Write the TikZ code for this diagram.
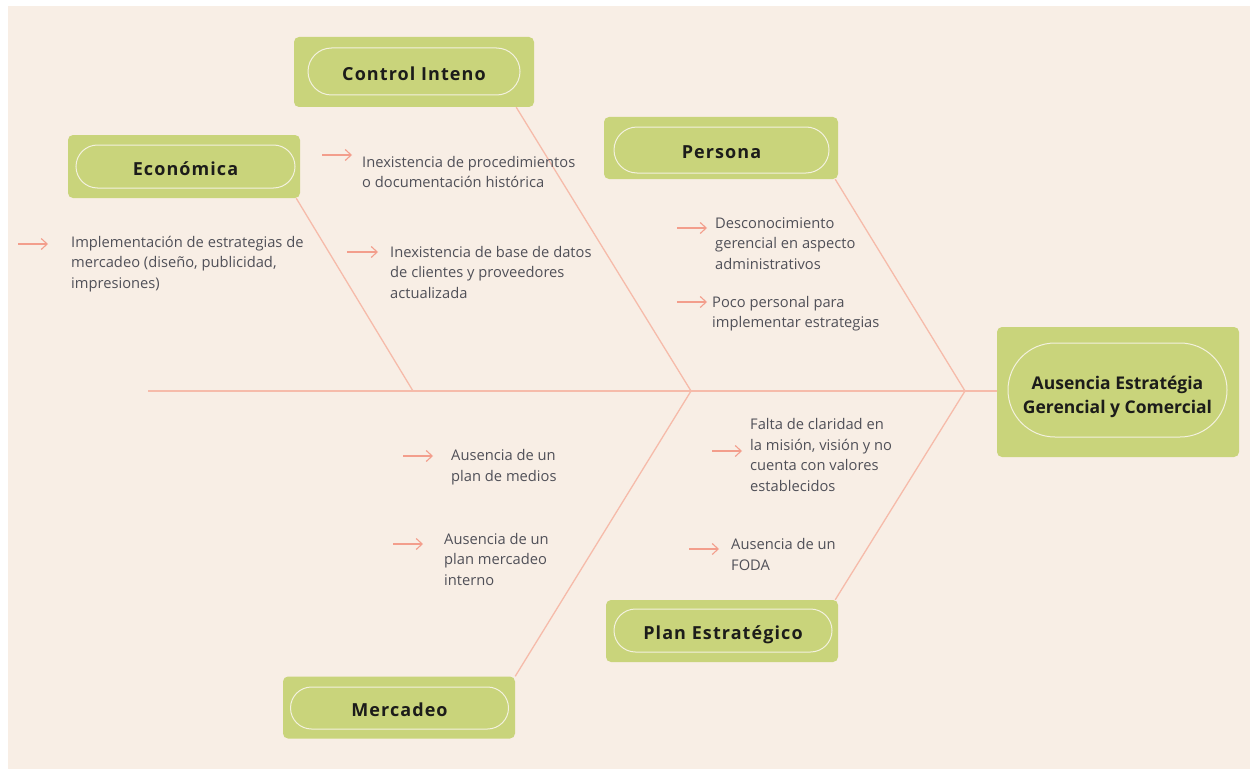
\documentclass[tikz,border=0pt]{standalone}
\usepackage{fontspec}
\setmainfont{Open Sans}
\newfontfamily\headfont{Open Sans}[LetterSpace=6]
\usetikzlibrary{arrows.meta}

\definecolor{pagebg}{HTML}{F8EEE5}
\definecolor{boxgreen}{HTML}{C9D47B}
\definecolor{pillline}{HTML}{F3F1DE}
\definecolor{bonecol}{HTML}{F6BBAA}
\definecolor{arrowcol}{HTML}{F39E8C}
\definecolor{titletext}{HTML}{1C1C1A}
\definecolor{bodytext}{HTML}{505058}

\tikzset{
  box/.style={fill=boxgreen, rounded corners=5pt, inner sep=0pt, draw=none},
  pill/.style={draw=pillline, line width=1pt, inner sep=0pt, text=titletext,
    text height=17.5pt, text depth=0pt,
    font=\headfont\bfseries\fontsize{18}{22}\selectfont},
  ring/.style={draw=pillline, line width=1pt, inner sep=0pt},
  efftext/.style={inner sep=0pt, text=titletext, align=center,
    font=\bfseries\fontsize{17.5}{24}\selectfont},
  bone/.style={draw=bonecol, line width=1.3pt},
  cause/.style={draw=arrowcol, line width=1.1pt,
    -{Straight Barb[length=6pt,width=11pt]}},
  txt/.style={anchor=base west, align=left, inner sep=0pt, text=bodytext,
    font=\fontsize{14.7}{20.5}\selectfont},
}

\begin{document}
\begin{tikzpicture}[x=1pt,y=-1pt]
\useasboundingbox (0,0) rectangle (1257,773);
\fill[white] (0,0) rectangle (1257,773);
\fill[pagebg] (8,6) rectangle (1250,769);

% effect box
\node[box, minimum width=242pt, minimum height=130pt] (eff) at (1118,392) {};
\node[ring, minimum width=219pt, minimum height=94pt, rounded corners=47pt]
  (effring) at (1117.5,390) {};
\node[efftext] (efft) at (1117.5,397) {Ausencia Estratégia\\Gerencial y Comercial};

% category boxes
\node[box, minimum width=240pt, minimum height=70pt] (ci) at (414,72) {};
\node[pill, minimum width=212pt, minimum height=47pt, rounded corners=23.5pt]
  (cit) at (414,71.5) {Control Inteno};

\node[box, minimum width=232pt, minimum height=63pt] (eco) at (184,166.5) {};
\node[pill, minimum width=219pt, minimum height=43pt, rounded corners=21.5pt]
  (ecot) at (185.5,166.5) {Económica};

\node[box, minimum width=234pt, minimum height=62pt] (per) at (721,148) {};
\node[pill, minimum width=215pt, minimum height=46pt, rounded corners=23pt]
  (pert) at (721.5,150) {Persona};

\node[box, minimum width=232pt, minimum height=62pt] (pla) at (722,631) {};
\node[pill, minimum width=218pt, minimum height=43pt, rounded corners=21.5pt]
  (plat) at (723,630.5) {Plan Estratégico};

\node[box, minimum width=232pt, minimum height=62pt] (mer) at (399,707.5) {};
\node[pill, minimum width=218pt, minimum height=42pt, rounded corners=21pt]
  (mert) at (399.5,708) {Mercadeo};

% spine and bones
\coordinate (tail) at (148,391);
\coordinate (v1) at (413,391);
\coordinate (v2) at (691,391);
\coordinate (v3) at (965,391);
\draw[bone] (tail) -- (tail -| eff.west);
\draw[bone] ([xshift=-4pt]eco.south east) -- (v1);
\draw[bone] ([xshift=-18pt]ci.south east) -- (v2);
\draw[bone] ([xshift=-3pt]per.south east) -- (v3);
\draw[bone] (mer.north east) -- (v2);
\draw[bone] ([xshift=-3pt]pla.north east) -- (v3);

% causes (each node is placed at the baseline of its last line)
\node[txt] (c1) at (71,288) {Implementación de estrategias de\\mercadeo (diseño, publicidad,\\impresiones)};
\node[txt] (c2) at (362,187.5) {Inexistencia de procedimientos\\o documentación histórica};
\node[txt] (c3) at (390,298) {Inexistencia de base de datos\\de clientes y proveedores\\actualizada};
\node[txt] (c4) at (715,269) {Desconocimiento\\gerencial en aspecto\\administrativos};
\node[txt] (c5) at (712,327.5) {Poco personal para\\implementar estrategias};
\node[txt] (c6) at (750,491) {Falta de claridad en\\la misión, visión y no\\cuenta con valores\\establecidos};
\node[txt] (c7) at (731,570) {Ausencia de un\\FODA};
\node[txt] (c8) at (451,481) {Ausencia de un\\plan de medios};
\node[txt] (c9) at (444,585) {Ausencia de un\\plan mercadeo\\interno};

% cause arrows
\coordinate (a1) at (18,244);  \coordinate (b1) at (48,244);
\coordinate (a2) at (322,155); \coordinate (b2) at (352,155);
\coordinate (a3) at (347,252); \coordinate (b3) at (378,252);
\coordinate (a4) at (677,228); \coordinate (b4) at (707,228);
\coordinate (a5) at (677,302); \coordinate (b5) at (707,302);
\coordinate (a6) at (712,451); \coordinate (b6) at (742,451);
\coordinate (a7) at (689,549); \coordinate (b7) at (719,549);
\coordinate (a8) at (403,456); \coordinate (b8) at (433,456);
\coordinate (a9) at (393,544); \coordinate (b9) at (423,544);
\foreach \i in {1,...,9}{\draw[cause] (a\i) -- (b\i);}
\end{tikzpicture}
\end{document}
